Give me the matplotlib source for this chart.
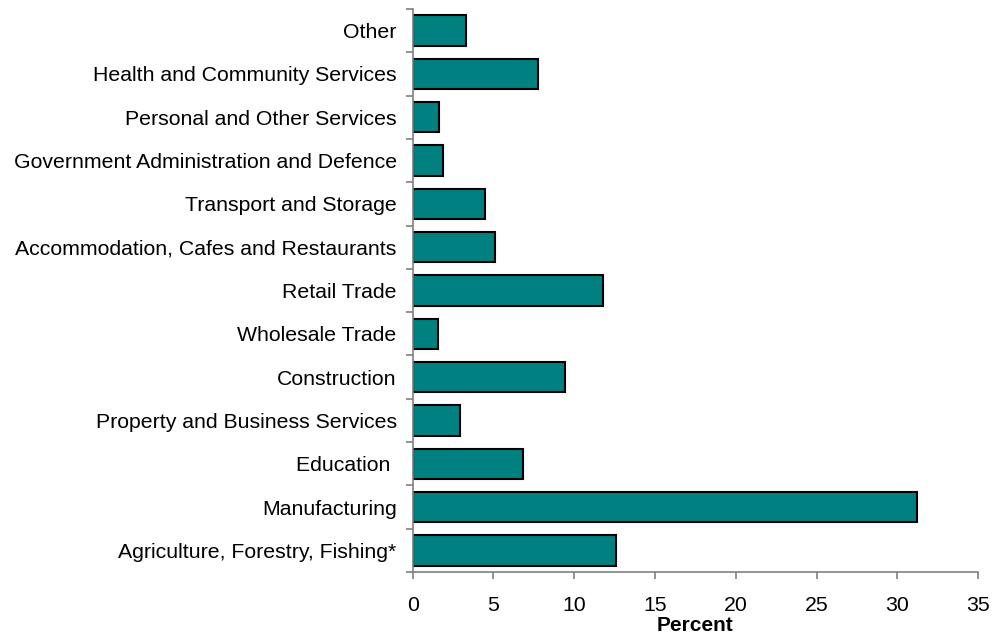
import numpy as np
import matplotlib
matplotlib.use('Agg')
import matplotlib.pyplot as plt

plt.rcParams['font.family'] = ['Liberation Sans', 'DejaVu Sans']

# bottom to top
industries = [
    'Agriculture, Forestry, Fishing*',
    'Manufacturing',
    'Education ',
    'Property and Business Services',
    'Construction',
    'Wholesale Trade',
    'Retail Trade',
    'Accommodation, Cafes and Restaurants',
    'Transport and Storage',
    'Government Administration and Defence',
    'Personal and Other Services',
    'Health and Community Services',
    'Other',
]
percent = [12.6, 31.2, 6.85, 2.9, 9.45, 1.55, 11.8, 5.1, 4.5, 1.9, 1.6, 7.75, 3.3]
x_ticks = [0, 5, 10, 15, 20, 25, 30, 35]

fig = plt.figure(figsize=(9.92, 6.38), dpi=100)
ax = fig.add_axes([0.416, 0.1034, 0.570, 0.8826])

y = np.arange(len(industries))
ax.barh(y, percent, height=0.7, color='#008080', edgecolor='black', linewidth=1.5)

ax.set_xlim(0, 35)
ax.set_ylim(-0.5, len(industries) - 0.5)
ax.set_xticks(x_ticks)
ax.set_yticks(y)
ax.set_yticklabels(industries)
ax.set_yticks(np.arange(len(industries) + 1) - 0.5, minor=True)

ax.tick_params(axis='y', which='major', length=0, pad=11.5, labelsize=15.3)
ax.tick_params(axis='y', which='minor', length=5, color='#808080', width=1.2)
ax.tick_params(axis='x', length=5, color='#808080', width=1.2, labelsize=15.3, pad=12)

for side in ['top', 'right']:
    ax.spines[side].set_visible(False)
for side in ['left', 'bottom']:
    ax.spines[side].set_color('#808080')
    ax.spines[side].set_linewidth(1.2)

ax.set_xlabel('Percent', fontsize=15, fontweight='bold', labelpad=1)

fig.savefig('out.png', dpi=100)
